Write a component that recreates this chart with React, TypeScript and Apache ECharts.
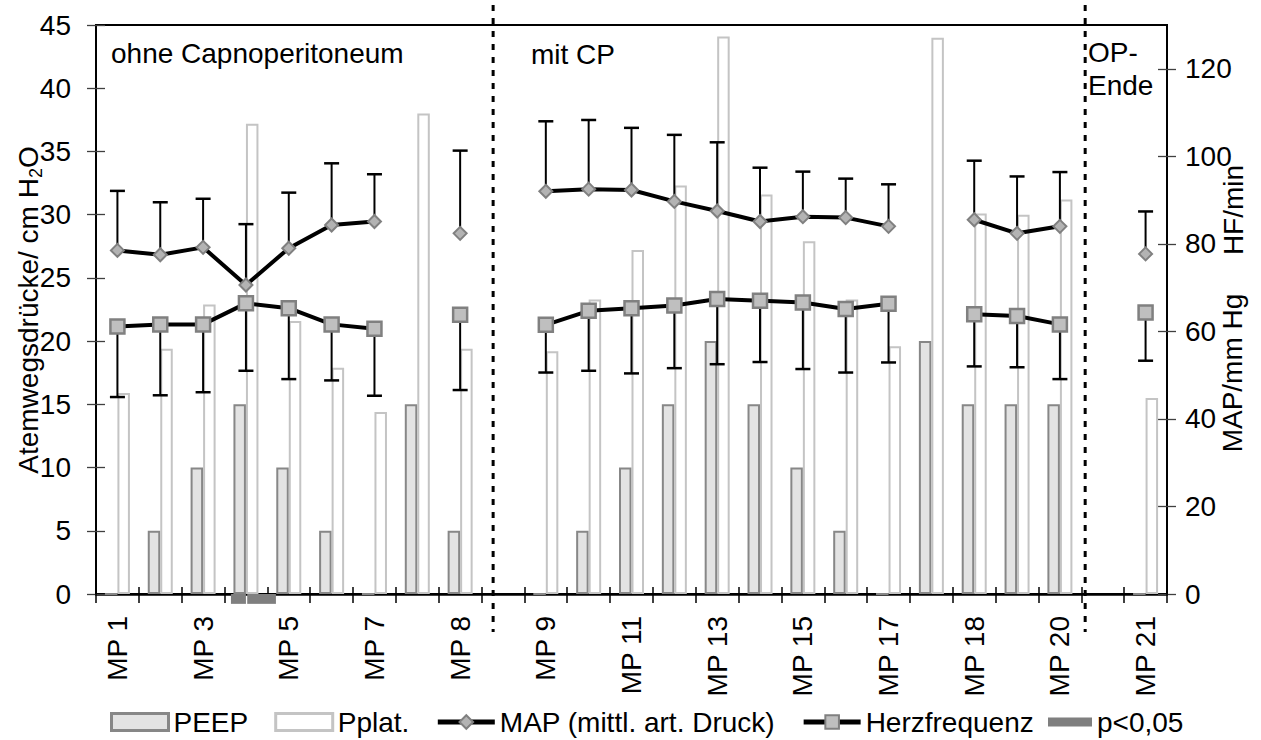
import React, { useEffect, useRef } from 'react';
import * as echarts from 'echarts';

// ---------- data ----------
const categories = [
  'MP 1', 'MP 2', 'MP 3', 'MP 4', 'MP 5', 'MP 6', 'MP 7', 'MP 7/8', 'MP 8', 'MP 8/9',
  'MP 9', 'MP 10', 'MP 11', 'MP 12', 'MP 13', 'MP 14', 'MP 15', 'MP 16', 'MP 17', 'MP 17/18',
  'MP 18', 'MP 19', 'MP 20', 'MP 20/21', 'MP 21',
];

const peep = [0, 5, 10, 15, 10, 5, 0, 15, 5, null, 0, 5, 10, 15, 20, 15, 10, 5, 0, 20, 15, 15, 15, null, 0];
const pplat = [15.9, 19.4, 22.9, 37.2, 21.6, 17.9, 14.4, 38.0, 19.4, null, 19.2, 23.3, 27.2, 32.3, 44.1, 31.6, 27.9, 23.3, 19.6, 44.0, 30.1, 30.0, 31.2, null, 15.5];

const mapValues = [78.5, 77.5, 79.2, 70.6, 79.0, 84.3, 85.1, null, 82.4, null, 92.0, 92.5, 92.3, 89.7, 87.5, 85.1, 86.2, 86.0, 84.0, null, 85.5, 82.4, 84.0, null, 77.7];
const mapUpper = [92.1, 89.5, 90.3, 84.5, 91.7, 98.4, 95.9, null, 101.3, null, 108.0, 108.3, 106.5, 104.9, 103.2, 97.4, 96.5, 94.9, 93.6, null, 99.0, 95.4, 96.4, null, 87.4];

const hrValues = [61.1, 61.6, 61.6, 66.4, 65.3, 61.6, 60.6, null, 63.8, null, 61.5, 64.7, 65.3, 65.9, 67.4, 67.0, 66.6, 65.1, 66.3, null, 63.9, 63.5, 61.6, null, 64.3];
const hrLower = [45.0, 45.4, 46.1, 51.0, 49.1, 48.8, 45.3, null, 46.6, null, 50.6, 51.0, 50.4, 51.6, 52.5, 53.0, 51.4, 50.6, 52.9, null, 52.0, 51.8, 49.1, null, 53.3];

// significance marker (p<0,05), category index and extent in category units
const pSigCat = [3, 3];
const pSigFrom = [-0.35, 0.03];
const pSigTo = [0.0, 0.7];
const pSigDepth = -0.78;

const leftTicks = [0, 5, 10, 15, 20, 25, 30, 35, 40, 45];
const rightTicks = [0, 20, 40, 60, 80, 100, 120];

// phase separators (in category units) and phase labels
const separatorPos = [9.27, 23.09];
const phaseLabels = ['ohne Capnoperitoneum', 'mit CP', 'OP-', 'Ende'];

const legendNames = ['PEEP', 'Pplat.', 'MAP (mittl. art. Druck)', 'Herzfrequenz'];
const sigName = 'p<0,05';

// ---------- layout / style ----------
const W = 1261;
const H = 740;
const GL = 96;
const GR = 94;
const GT = 25;
const GB = 146;
const FONT = "'Liberation Sans', Arial, Helvetica, sans-serif";
const FS = 28;

const plotW = W - GL - GR;
const catW = plotW / categories.length;

function App() {
  const ref = useRef<HTMLDivElement>(null);

  useEffect(() => {
    document.body.style.margin = '0';
    const chart = echarts.init(ref.current as HTMLDivElement, undefined, { renderer: 'svg' });

    const mapErr = categories
      .map((_, i) => (mapValues[i] == null ? null : [i, mapValues[i], mapUpper[i]]))
      .filter((d) => d !== null);
    const hrErr = categories
      .map((_, i) => (hrValues[i] == null ? null : [i, hrValues[i], hrLower[i]]))
      .filter((d) => d !== null);
    const sigData = pSigCat.map((c, i) => [c, pSigFrom[i], pSigTo[i], pSigDepth]);

    const errRender = (params: any, api: any) => {
      const x = api.value(0);
      const p0 = api.coord([x, api.value(1)]);
      const p1 = api.coord([x, api.value(2)]);
      const hw = 7.5;
      return {
        type: 'group',
        children: [
          { type: 'line', shape: { x1: p0[0], y1: p0[1], x2: p1[0], y2: p1[1] }, style: { stroke: '#000', lineWidth: 2 } },
          { type: 'line', shape: { x1: p1[0] - hw, y1: p1[1], x2: p1[0] + hw, y2: p1[1] }, style: { stroke: '#000', lineWidth: 2.5 } },
        ],
      };
    };

    const sigRender = (params: any, api: any) => {
      const c = api.value(0);
      const base = api.coord([c, 0]);
      const bottom = api.coord([c, api.value(3)]);
      const bw = api.size([1, 0])[0];
      return {
        type: 'rect',
        shape: {
          x: base[0] + api.value(1) * bw,
          y: base[1],
          width: (api.value(2) - api.value(1)) * bw,
          height: bottom[1] - base[1],
        },
        style: { fill: '#7f7f7f' },
      };
    };

    const graphics: any[] = separatorPos.map((p) => ({
      type: 'line',
      shape: { x1: GL + p * catW, y1: 5, x2: GL + p * catW, y2: 632 },
      style: { stroke: '#000', lineWidth: 3, lineDash: [6, 7] },
      z: 10,
    }));
    const textStyle = (t: string) => ({ text: t, fill: '#000', font: `${FS}px ${FONT}`, verticalAlign: 'middle', align: 'left' });
    graphics.push(
      { type: 'text', x: 111, y: 53, style: textStyle(phaseLabels[0]), z: 10 },
      { type: 'text', x: 531, y: 54, style: textStyle(phaseLabels[1]), z: 10 },
      { type: 'text', x: 1088, y: 52, style: textStyle(phaseLabels[2]), z: 10 },
      { type: 'text', x: 1088, y: 85, style: textStyle(phaseLabels[3]), z: 10 },
      {
        type: 'text', x: 28, y: 310, rotation: Math.PI / 2, z: 10,
        style: {
          text: '{a|Atemwegsdrücke/ cm H}{s|2}{a|O}',
          align: 'center', verticalAlign: 'middle', fill: '#000',
          rich: {
            a: { fontSize: FS, fontFamily: FONT, lineHeight: 34, verticalAlign: 'middle', fill: '#000' },
            s: { fontSize: 18, fontFamily: FONT, lineHeight: 34, verticalAlign: 'bottom', fill: '#000' },
          },
        },
      },
      {
        type: 'text', x: 1233, y: 210, rotation: Math.PI / 2, z: 10,
        style: { text: 'HF/min', fill: '#000', font: `${FS}px ${FONT}`, align: 'center', verticalAlign: 'middle' },
      },
      {
        type: 'text', x: 1232, y: 373, rotation: Math.PI / 2, z: 10,
        style: { text: 'MAP/mm Hg', fill: '#000', font: `${FS}px ${FONT}`, align: 'center', verticalAlign: 'middle' },
      },
    );

    const tickGray = { color: '#404040', width: 1.3 };

    const option: any = {
      animation: false,
      backgroundColor: '#fff',
      textStyle: { fontFamily: FONT, color: '#000' },
      grid: { left: GL, right: GR, top: GT, bottom: GB, show: true, borderColor: '#000', borderWidth: 2, backgroundColor: 'transparent' },
      legend: [
        {
          left: 110, top: 708, padding: 0, itemWidth: 57, itemHeight: 17, itemGap: 26,
          textStyle: { fontSize: FS, color: '#000', fontFamily: FONT },
          selectedMode: false,
          data: [
            { name: legendNames[0], icon: 'rect', itemStyle: { borderWidth: 3 } },
            { name: legendNames[1], icon: 'rect', itemStyle: { borderWidth: 3 } },
            { name: legendNames[2], lineStyle: { width: 5, color: '#000' } },
            { name: legendNames[3], lineStyle: { width: 5, color: '#000' } },
          ],
        },
        {
          left: 1048, top: 708, padding: 0, itemWidth: 44, itemHeight: 9,
          textStyle: { fontSize: FS, color: '#000', fontFamily: FONT },
          selectedMode: false,
          data: [{ name: sigName, icon: 'rect' }],
        },
      ],
      xAxis: [
        {
          type: 'category', data: categories, position: 'bottom', boundaryGap: true,
          axisLine: { show: true, lineStyle: { color: '#000', width: 2.5 } },
          axisTick: { show: true, interval: 0, length: 9, lineStyle: { color: '#000', width: 1.5 } },
          axisLabel: { interval: 1, rotate: 90, fontSize: FS, color: '#000', fontFamily: FONT, margin: 22, padding: [0, 0, 11, 0] },
          splitLine: { show: false },
        },
        {
          type: 'category', data: categories, position: 'bottom', boundaryGap: true,
          axisLine: { show: false },
          axisTick: { show: true, inside: true, interval: 0, length: 7, lineStyle: { color: '#000', width: 1.5 } },
          axisLabel: { show: false },
          splitLine: { show: false },
        },
      ],
      yAxis: [
        {
          type: 'value', position: 'left', min: 0, max: 45, interval: 5,
          axisLine: { show: true, lineStyle: { color: '#000', width: 2 } },
          axisTick: { show: true, length: 9, lineStyle: tickGray, customValues: leftTicks },
          axisLabel: { fontSize: FS, color: '#000', fontFamily: FONT, margin: 25, customValues: leftTicks },
          splitLine: { show: false },
        },
        {
          type: 'value', position: 'right', min: 0, max: 130, interval: 20,
          axisLine: { show: true, lineStyle: { color: '#000', width: 2 } },
          axisTick: { show: true, length: 9, lineStyle: tickGray, customValues: rightTicks },
          axisLabel: { fontSize: FS, color: '#000', fontFamily: FONT, margin: 18, customValues: rightTicks },
          splitLine: { show: false },
        },
        {
          type: 'value', position: 'left', min: 0, max: 45, interval: 5,
          axisLine: { show: false },
          axisTick: { show: true, inside: true, length: 9, lineStyle: tickGray, customValues: leftTicks },
          axisLabel: { show: false },
          splitLine: { show: false },
        },
        {
          type: 'value', position: 'right', min: 0, max: 130, interval: 20,
          axisLine: { show: false },
          axisTick: { show: true, inside: true, length: 9, lineStyle: tickGray, customValues: rightTicks },
          axisLabel: { show: false },
          splitLine: { show: false },
        },
      ],
      graphic: graphics,
      series: [
        {
          name: legendNames[0], type: 'bar', xAxisIndex: 0, yAxisIndex: 0, data: peep,
          barWidth: 12.5, barGap: '0%', z: 2,
          itemStyle: { color: '#e3e3e3', borderColor: '#878787', borderWidth: 2 },
        },
        {
          name: legendNames[1], type: 'bar', xAxisIndex: 0, yAxisIndex: 0, data: pplat,
          barWidth: 12.5, barGap: '0%', z: 2,
          itemStyle: { color: '#ffffff', borderColor: '#c4c4c4', borderWidth: 2 },
        },
        {
          name: sigName, type: 'custom', xAxisIndex: 0, yAxisIndex: 0, data: sigData,
          renderItem: sigRender, encode: { x: 0, y: 3 }, clip: false, z: 3,
          itemStyle: { color: '#7f7f7f' },
        },
        {
          name: 'MAP-SD', type: 'custom', xAxisIndex: 0, yAxisIndex: 1, data: mapErr,
          renderItem: errRender, encode: { x: 0, y: [1, 2] }, z: 3,
        },
        {
          name: 'HF-SD', type: 'custom', xAxisIndex: 0, yAxisIndex: 1, data: hrErr,
          renderItem: errRender, encode: { x: 0, y: [1, 2] }, z: 3,
        },
        {
          name: legendNames[2], type: 'line', xAxisIndex: 0, yAxisIndex: 1, data: mapValues,
          symbol: 'diamond', symbolSize: 13, showSymbol: true, showAllSymbol: true, connectNulls: false, z: 4,
          lineStyle: { color: '#000', width: 4 },
          itemStyle: { color: '#b3b3b3', borderColor: '#808080', borderWidth: 2 },
        },
        {
          name: legendNames[3], type: 'line', xAxisIndex: 0, yAxisIndex: 1, data: hrValues,
          symbol: 'rect', symbolSize: 14, showSymbol: true, showAllSymbol: true, connectNulls: false, z: 4,
          lineStyle: { color: '#000', width: 4 },
          itemStyle: { color: '#bfbfbf', borderColor: '#808080', borderWidth: 2.5 },
        },
      ],
    };

    chart.setOption(option);
    return () => chart.dispose();
  }, []);

  return <div ref={ref} style={{ width: W, height: H }} />;
}

export default App;
